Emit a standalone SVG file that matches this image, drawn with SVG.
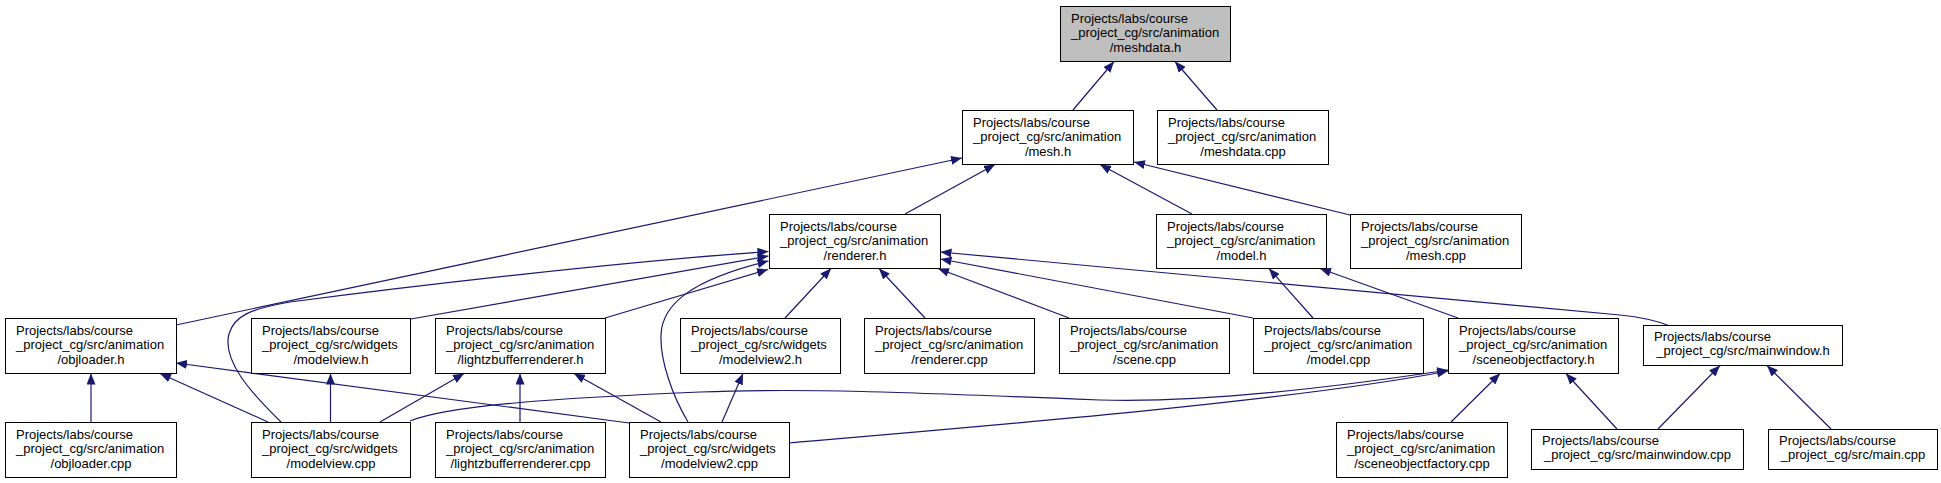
<svg xmlns="http://www.w3.org/2000/svg" width="1941" height="483" viewBox="0 0 1941 483">
<style>
.bg{fill:#ffffff}
.node rect{fill:#ffffff;stroke:#000000;stroke-width:1}
.node.main rect{fill:#bfbfbf}
.node text{font-family:"Liberation Sans",Arial,Helvetica,sans-serif;font-size:13px;fill:#000000}
.node text.c{text-anchor:middle}
#edges path{fill:none;stroke:#191970;stroke-width:1.2;marker-end:url(#ah)}
</style>
<defs>
<marker id="ah" markerWidth="11" markerHeight="9" refX="11" refY="4.5" orient="auto" markerUnits="userSpaceOnUse">
<path d="M0,0 L11,4.5 L0,9 z" fill="#191970" stroke="none"/>
</marker>
</defs>
<rect class="bg" x="0" y="0" width="1941" height="483"/>
<g id="edges">
<path d="M1073,110 L1114,61.5"/>
<path d="M1217,110 L1175,61.5"/>
<path d="M905,214 L995,164.5"/>
<path d="M1192,214 L1100,164.5"/>
<path d="M1350,215 L1134,162"/>
<path d="M176,325 L962,158"/>
<path d="M91,422 L91,373.5"/>
<path d="M268,422 L160,373.5"/>
<path d="M629,423 L176,363"/>
<path d="M411,319 L768.5,256"/>
<path d="M605,318 L768,269.5"/>
<path d="M785,318 L831,268.5"/>
<path d="M925,318 L879,268.5"/>
<path d="M1069,318 L938,268.5"/>
<path d="M1253,318 L940.5,259"/>
<path d="M1670,326 C1655,320 1640,317 1620,315 L940.5,252"/>
<path d="M281,422 C250,392 222,360 229,334 C234,316 250,309 290,302 C420,285 620,262 768.5,251.5"/>
<path d="M688,422 C672,395 660,360 661,335 C662,305 690,280 768.5,261"/>
<path d="M330.5,422 L330.5,373.5"/>
<path d="M380,422 L464,373.5"/>
<path d="M520,422 L520,373.5"/>
<path d="M661,422 L574,373.5"/>
<path d="M722,422 L743,373.5"/>
<path d="M1313,318 L1269,268.5"/>
<path d="M1458,318 L1320,268.5"/>
<path d="M410,421 C450,405 560,398 700,392 C800,388 900,392 1100,400 C1200,403 1330,388 1448,370"/>
<path d="M789,443 C1000,425 1300,400 1448,371"/>
<path d="M1451,422 L1500,373.5"/>
<path d="M1617,429 L1566,373.5"/>
<path d="M1658,429 L1720,365.5"/>
<path d="M1831,429 L1767,365.5"/>
</g>
<g id="n_meshdata_h" class="node main"><rect x="1060.5" y="6.5" width="170" height="55"/><text x="1071" y="22.5">Projects/labs/course</text><text x="1071" y="37">_project_cg/src/animation</text><text class="c" x="1145.5" y="51.5">/meshdata.h</text></g>
<g id="n_mesh_h" class="node"><rect x="962.5" y="110.5" width="171" height="54"/><text x="973" y="126.5">Projects/labs/course</text><text x="973" y="141">_project_cg/src/animation</text><text class="c" x="1048" y="155.5">/mesh.h</text></g>
<g id="n_meshdata_cpp" class="node"><rect x="1157.5" y="110.5" width="171" height="54"/><text x="1168" y="126.5">Projects/labs/course</text><text x="1168" y="141">_project_cg/src/animation</text><text class="c" x="1243" y="155.5">/meshdata.cpp</text></g>
<g id="n_renderer_h" class="node"><rect x="769.5" y="214.5" width="171" height="54"/><text x="780" y="230.5">Projects/labs/course</text><text x="780" y="245">_project_cg/src/animation</text><text class="c" x="855" y="259.5">/renderer.h</text></g>
<g id="n_model_h" class="node"><rect x="1156.5" y="214.5" width="170" height="54"/><text x="1167" y="230.5">Projects/labs/course</text><text x="1167" y="245">_project_cg/src/animation</text><text class="c" x="1241.5" y="259.5">/model.h</text></g>
<g id="n_mesh_cpp" class="node"><rect x="1350.5" y="214.5" width="171" height="54"/><text x="1361" y="230.5">Projects/labs/course</text><text x="1361" y="245">_project_cg/src/animation</text><text class="c" x="1436" y="259.5">/mesh.cpp</text></g>
<g id="n_objloader_h" class="node"><rect x="5.5" y="318.5" width="171" height="55"/><text x="16" y="334.5">Projects/labs/course</text><text x="16" y="349">_project_cg/src/animation</text><text class="c" x="91" y="363.5">/objloader.h</text></g>
<g id="n_modelview_h" class="node"><rect x="251.5" y="318.5" width="159" height="55"/><text x="262" y="334.5">Projects/labs/course</text><text x="262" y="349">_project_cg/src/widgets</text><text class="c" x="331" y="363.5">/modelview.h</text></g>
<g id="n_lightzbufferrenderer_h" class="node"><rect x="435.5" y="318.5" width="170" height="55"/><text x="446" y="334.5">Projects/labs/course</text><text x="446" y="349">_project_cg/src/animation</text><text class="c" x="520.5" y="363.5">/lightzbufferrenderer.h</text></g>
<g id="n_modelview2_h" class="node"><rect x="680.5" y="318.5" width="160" height="55"/><text x="691" y="334.5">Projects/labs/course</text><text x="691" y="349">_project_cg/src/widgets</text><text class="c" x="760.5" y="363.5">/modelview2.h</text></g>
<g id="n_renderer_cpp" class="node"><rect x="864.5" y="318.5" width="170" height="55"/><text x="875" y="334.5">Projects/labs/course</text><text x="875" y="349">_project_cg/src/animation</text><text class="c" x="949.5" y="363.5">/renderer.cpp</text></g>
<g id="n_scene_cpp" class="node"><rect x="1059.5" y="318.5" width="170" height="55"/><text x="1070" y="334.5">Projects/labs/course</text><text x="1070" y="349">_project_cg/src/animation</text><text class="c" x="1144.5" y="363.5">/scene.cpp</text></g>
<g id="n_model_cpp" class="node"><rect x="1253.5" y="318.5" width="170" height="55"/><text x="1264" y="334.5">Projects/labs/course</text><text x="1264" y="349">_project_cg/src/animation</text><text class="c" x="1338.5" y="363.5">/model.cpp</text></g>
<g id="n_sceneobjectfactory_h" class="node"><rect x="1448.5" y="318.5" width="170" height="55"/><text x="1459" y="334.5">Projects/labs/course</text><text x="1459" y="349">_project_cg/src/animation</text><text class="c" x="1533.5" y="363.5">/sceneobjectfactory.h</text></g>
<g id="n_mainwindow_h" class="node"><rect x="1643.5" y="325.5" width="199" height="40"/><text x="1654" y="340.5">Projects/labs/course</text><text class="c" x="1743" y="355">_project_cg/src/mainwindow.h</text></g>
<g id="n_objloader_cpp" class="node"><rect x="5.5" y="422.5" width="171" height="55"/><text x="16" y="438.5">Projects/labs/course</text><text x="16" y="453">_project_cg/src/animation</text><text class="c" x="91" y="467.5">/objloader.cpp</text></g>
<g id="n_modelview_cpp" class="node"><rect x="251.5" y="422.5" width="159" height="55"/><text x="262" y="438.5">Projects/labs/course</text><text x="262" y="453">_project_cg/src/widgets</text><text class="c" x="331" y="467.5">/modelview.cpp</text></g>
<g id="n_lightzbufferrenderer_cpp" class="node"><rect x="435.5" y="422.5" width="170" height="55"/><text x="446" y="438.5">Projects/labs/course</text><text x="446" y="453">_project_cg/src/animation</text><text class="c" x="520.5" y="467.5">/lightzbufferrenderer.cpp</text></g>
<g id="n_modelview2_cpp" class="node"><rect x="629.5" y="422.5" width="160" height="55"/><text x="640" y="438.5">Projects/labs/course</text><text x="640" y="453">_project_cg/src/widgets</text><text class="c" x="709.5" y="467.5">/modelview2.cpp</text></g>
<g id="n_sceneobjectfactory_cpp" class="node"><rect x="1336.5" y="422.5" width="171" height="55"/><text x="1347" y="438.5">Projects/labs/course</text><text x="1347" y="453">_project_cg/src/animation</text><text class="c" x="1422" y="467.5">/sceneobjectfactory.cpp</text></g>
<g id="n_mainwindow_cpp" class="node"><rect x="1531.5" y="429.5" width="212" height="40"/><text x="1542" y="444.5">Projects/labs/course</text><text class="c" x="1637.5" y="459">_project_cg/src/mainwindow.cpp</text></g>
<g id="n_main_cpp" class="node"><rect x="1768.5" y="429.5" width="169" height="40"/><text x="1779" y="444.5">Projects/labs/course</text><text class="c" x="1853" y="459">_project_cg/src/main.cpp</text></g>
</svg>
